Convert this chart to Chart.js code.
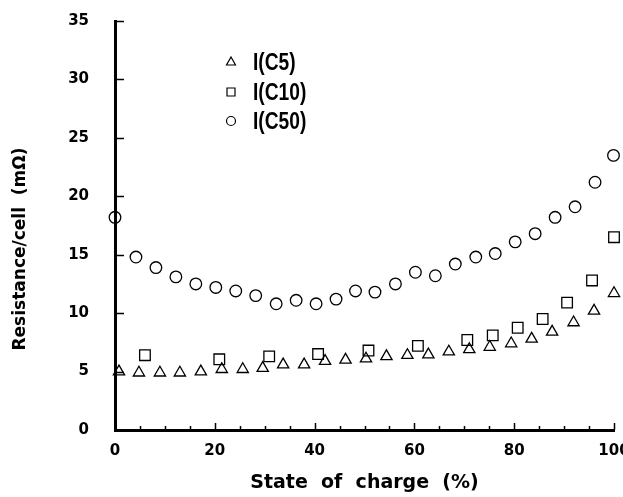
<!DOCTYPE html>
<html>
<head>
<meta charset="utf-8">
<script src="https://cdn.jsdelivr.net/npm/chart.js@4.4.0/dist/chart.umd.min.js"></script>
<style>
  html, body { margin: 0; padding: 0; background: #fff; }
</style>
</head>
<body>
<canvas id="resistanceChart" width="623" height="497"></canvas>
<script>
// values
var c5Soc  = [0.8, 4.8, 9.0, 13.0, 17.2, 21.4, 25.6, 29.6, 33.7, 37.9, 42.1, 46.2, 50.3, 54.4, 58.6, 62.8, 66.9, 71.0, 75.1, 79.4, 83.5, 87.6, 91.9, 96.0, 100];
var c5Res  = [5.0, 4.9, 4.9, 4.9, 5.0, 5.2, 5.2, 5.3, 5.6, 5.6, 5.9, 6.0, 6.1, 6.3, 6.4, 6.45, 6.7, 6.9, 7.1, 7.4, 7.8, 8.4, 9.2, 10.2, 11.7];
var c10Soc = [6.0, 20.9, 30.9, 40.7, 50.8, 60.7, 70.6, 75.7, 80.7, 85.7, 90.6, 95.6, 100];
var c10Res = [6.4, 6.05, 6.3, 6.5, 6.8, 7.2, 7.7, 8.1, 8.75, 9.5, 10.9, 12.8, 16.5];
var c50Soc = [0, 4.2, 8.2, 12.2, 16.2, 20.2, 24.2, 28.2, 32.3, 36.3, 40.3, 44.3, 48.2, 52.1, 56.2, 60.2, 64.2, 68.2, 72.3, 76.2, 80.2, 84.2, 88.2, 92.2, 96.2, 99.9];
var c50Res = [18.2, 14.8, 13.9, 13.1, 12.5, 12.2, 11.9, 11.5, 10.8, 11.1, 10.8, 11.2, 11.9, 11.8, 12.5, 13.5, 13.2, 14.2, 14.8, 15.1, 16.1, 16.8, 18.2, 19.1, 21.2, 23.5];
var seriesNames = ['I(C5)', 'I(C10)', 'I(C50)'];
var xTicks = [0, 20, 40, 60, 80, 100];
var yTicks = [0, 5, 10, 15, 20, 25, 30, 35];

function pairs(xs, ys) {
    return xs.map(function (x, i) { return { x: x, y: ys[i] }; });
}

function marker(ctx, style, x, y, s) {
    ctx.beginPath();
    if (style === 'triangle') {
        ctx.moveTo(x, y - s);
        ctx.lineTo(x + s * 0.9, y + s * 0.6);
        ctx.lineTo(x - s * 0.9, y + s * 0.6);
        ctx.closePath();
    } else if (style === 'rect') {
        ctx.rect(x - s * 0.8, y - s * 0.8, s * 1.6, s * 1.6);
    } else {
        ctx.arc(x, y, s * 0.9, 0, Math.PI * 2);
    }
    ctx.stroke();
}

// inward ticks, axis titles and the legend box inside the plot
var decor = {
    id: 'decor',
    afterDraw: function (chart) {
        var ctx = chart.ctx;
        var xs = chart.scales.x, ys = chart.scales.y;
        var area = chart.chartArea;
        ctx.save();
        ctx.strokeStyle = '#000';
        ctx.lineWidth = 1.5;
        ctx.beginPath();
        yTicks.forEach(function (v) {
            var py = Math.round(ys.getPixelForValue(v)) + 0.5;
            ctx.moveTo(area.left, py);
            ctx.lineTo(area.left + 9, py);
        });
        for (var v = 0; v <= 100; v += 5) {
            var px = Math.round(xs.getPixelForValue(v)) + 0.5;
            ctx.moveTo(px, area.bottom);
            ctx.lineTo(px, area.bottom - (v % 20 === 0 ? 7 : 4));
        }
        ctx.stroke();

        // axis titles
        ctx.fillStyle = '#000';
        ctx.textAlign = 'center';
        ctx.textBaseline = 'middle';
        ctx.font = 'bold 19px "DejaVu Sans"';
        ctx.fillText('State  of  charge  (%)', (area.left + area.right) / 2, 483);
        ctx.save();
        ctx.translate(21, 249);
        ctx.rotate(-Math.PI / 2);
        ctx.font = 'bold 17px "DejaVu Sans"';
        ctx.fillText('Resistance/cell  (mΩ)', 0, 0);
        ctx.restore();

        // legend
        ctx.lineWidth = 1.2;
        ctx.textAlign = 'left';
        var rowsY = [62, 92, 121];
        chart.data.datasets.forEach(function (ds, i) {
            marker(ctx, ds.pointStyle, 231, rowsY[i], 5);
            ctx.save();
            ctx.translate(253, rowsY[i] + 1);
            ctx.scale(0.8, 1);
            ctx.font = 'bold 24px "Liberation Sans"';
            ctx.fillText(ds.label, 0, 0);
            ctx.restore();
        });
        ctx.restore();
    }
};

var pointBase = {
    showLine: false,
    borderColor: '#000',
    backgroundColor: 'rgba(255,255,255,0)',
    pointBorderColor: '#000',
    pointBackgroundColor: 'rgba(255,255,255,0)',
    pointBorderWidth: 1.3,
    clip: false
};

var ctx = document.getElementById('resistanceChart').getContext('2d');
var myChart = new Chart(ctx, {
    type: 'scatter',
    data: {
        datasets: [
            Object.assign({ label: seriesNames[0], data: pairs(c5Soc, c5Res), pointStyle: 'triangle', pointRadius: 6.5 }, pointBase),
            Object.assign({ label: seriesNames[1], data: pairs(c10Soc, c10Res), pointStyle: 'rect', pointRadius: 7.5 }, pointBase),
            Object.assign({ label: seriesNames[2], data: pairs(c50Soc, c50Res), pointStyle: 'circle', pointRadius: 5.8 }, pointBase)
        ]
    },
    options: {
        responsive: false,
        animation: false,
        devicePixelRatio: 1,
        layout: { padding: { left: 0, right: 9, top: 21, bottom: 0 } },
        plugins: {
            legend: { display: false },
            tooltip: { enabled: false }
        },
        scales: {
            x: {
                type: 'linear',
                min: 0,
                max: 100,
                afterBuildTicks: function (scale) {
                    scale.ticks = xTicks.map(function (v) { return { value: v }; });
                },
                afterFit: function (scale) {
                    scale.height = 67;
                    scale.paddingLeft = 0;
                    scale.paddingRight = 0;
                },
                ticks: {
                    color: '#000',
                    padding: 4,
                    maxRotation: 0,
                    autoSkip: false,
                    font: { family: 'DejaVu Sans', size: 15, weight: 'bold' }
                },
                grid: { display: false },
                border: { display: true, width: 3, color: '#000' }
            },
            y: {
                min: 0,
                max: 35,
                afterBuildTicks: function (scale) {
                    scale.ticks = yTicks.map(function (v) { return { value: v }; });
                },
                afterFit: function (scale) {
                    scale.width = 115;
                    scale.paddingTop = 0;
                    scale.paddingBottom = 0;
                },
                ticks: {
                    color: '#000',
                    padding: 18,
                    autoSkip: false,
                    font: { family: 'DejaVu Sans', size: 15, weight: 'bold' }
                },
                grid: { display: false },
                border: { display: true, width: 3, color: '#000' }
            }
        }
    },
    plugins: [decor]
});
</script>
</body>
</html>
